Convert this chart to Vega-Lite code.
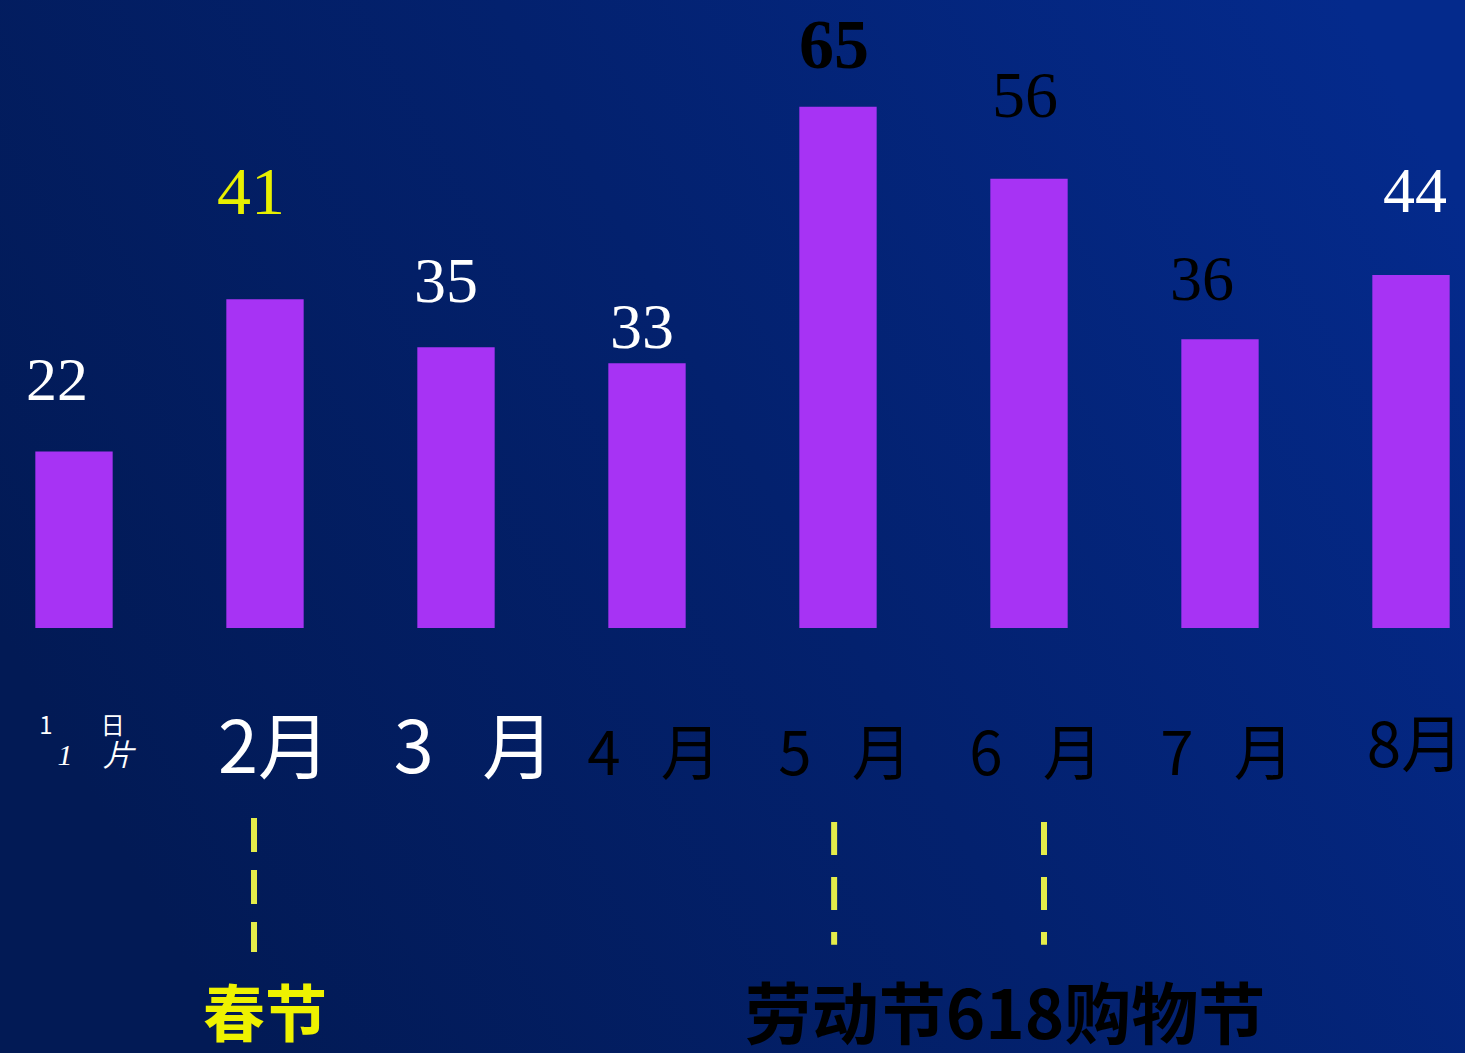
{
  "$schema": "https://vega.github.io/schema/vega-lite/v6.json",
  "width": 1465,
  "height": 1053,
  "autosize": "none",
  "padding": 0,
  "background": "#041f66",
  "config": {
    "view": {"stroke": null, "fill": {"gradient": "linear", "x1": 0, "y1": 0.6, "x2": 1, "y2": 0.2, "stops": [{"offset": 0, "color": "#021a55"}, {"offset": 0.5, "color": "#03216e"}, {"offset": 1, "color": "#042a8c"}]}}
  },
  "datasets": {
    "sales": [
      {"month": "1月", "value": 22, "label": ""},
      {"month": "2月", "value": 41, "label": "2月"},
      {"month": "3月", "value": 35, "label": "3\u00a0\u00a0\u00a0月"},
      {"month": "4月", "value": 33, "label": "4\u00a0\u00a0\u00a0月"},
      {"month": "5月", "value": 65, "label": "5\u00a0\u00a0\u00a0月"},
      {"month": "6月", "value": 56, "label": "6\u00a0\u00a0\u00a0月"},
      {"month": "7月", "value": 36, "label": "7\u00a0\u00a0\u00a0月"},
      {"month": "8月", "value": 44, "label": "8月"}
    ],
    "firstLabel": [
      {"month": "1月", "top": "1\u00a0\u00a0\u00a0\u00a0\u00a0\u00a0\u00a0\u00a0\u00a0日", "bottom": "1\u00a0\u00a0\u00a0\u00a0片"}
    ],
    "events": [
      {"month": "2月", "text": "春节"},
      {"month": "6月", "text": "劳动节618购物节"}
    ]
  },
  "data": {"name": "sales"},
  "encoding": {
    "x": {"field": "month", "type": "nominal", "axis": null,
      "scale": {"domain": ["1月", "2月", "3月", "4月", "5月", "6月", "7月", "8月"], "range": [-21.5, 1506.5], "paddingInner": 0.595, "paddingOuter": 0.2975}}
  },
  "layer": [
    {
      "mark": {"type": "bar", "color": "#a733f4"},
      "encoding": {
        "y": {"field": "value", "type": "quantitative", "axis": null, "scale": {"domain": [-53, 78.3], "nice": false, "zero": false}}
      }
    },
    {
      "transform": [{"filter": "datum.month == '1月'"}],
      "mark": {"type": "text", "font": "Liberation Serif", "fontSize": 62, "color": "#ffffff", "dx": -17, "dy": -52, "baseline": "alphabetic"},
      "encoding": {"y": {"field": "value", "type": "quantitative"}, "text": {"field": "value", "type": "quantitative"}}
    },
    {
      "transform": [{"filter": "datum.month == '2月'"}],
      "mark": {"type": "text", "font": "Liberation Serif", "fontSize": 68, "color": "#e8f000", "dx": -14, "dy": -85, "baseline": "alphabetic"},
      "encoding": {"y": {"field": "value", "type": "quantitative"}, "text": {"field": "value", "type": "quantitative"}}
    },
    {
      "transform": [{"filter": "datum.month == '3月'"}],
      "mark": {"type": "text", "font": "Liberation Serif", "fontSize": 64, "color": "#ffffff", "dx": -10, "dy": -45, "baseline": "alphabetic"},
      "encoding": {"y": {"field": "value", "type": "quantitative"}, "text": {"field": "value", "type": "quantitative"}}
    },
    {
      "transform": [{"filter": "datum.month == '4月'"}],
      "mark": {"type": "text", "font": "Liberation Serif", "fontSize": 64, "color": "#ffffff", "dx": -5, "dy": -15, "baseline": "alphabetic"},
      "encoding": {"y": {"field": "value", "type": "quantitative"}, "text": {"field": "value", "type": "quantitative"}}
    },
    {
      "transform": [{"filter": "datum.month == '5月'"}],
      "mark": {"type": "text", "font": "Liberation Serif", "fontSize": 70, "fontWeight": "bold", "color": "#000000", "dx": -4, "dy": -39, "baseline": "alphabetic"},
      "encoding": {"y": {"field": "value", "type": "quantitative"}, "text": {"field": "value", "type": "quantitative"}}
    },
    {
      "transform": [{"filter": "datum.month == '6月'"}],
      "mark": {"type": "text", "font": "Liberation Serif", "fontSize": 66, "color": "#000000", "dx": -4, "dy": -62, "baseline": "alphabetic"},
      "encoding": {"y": {"field": "value", "type": "quantitative"}, "text": {"field": "value", "type": "quantitative"}}
    },
    {
      "transform": [{"filter": "datum.month == '7月'"}],
      "mark": {"type": "text", "font": "Liberation Serif", "fontSize": 64, "color": "#000000", "dx": -18, "dy": -39, "baseline": "alphabetic"},
      "encoding": {"y": {"field": "value", "type": "quantitative"}, "text": {"field": "value", "type": "quantitative"}}
    },
    {
      "transform": [{"filter": "datum.month == '8月'"}],
      "mark": {"type": "text", "font": "Liberation Serif", "fontSize": 64, "color": "#ffffff", "dx": 4, "dy": -63, "baseline": "alphabetic"},
      "encoding": {"y": {"field": "value", "type": "quantitative"}, "text": {"field": "value", "type": "quantitative"}}
    },
    {
      "transform": [{"filter": "datum.month == '2月'"}],
      "mark": {"type": "text", "font": "Noto Sans CJK SC", "fontSize": 72, "color": "#ffffff", "dx": 9, "baseline": "alphabetic"},
      "encoding": {"y": {"datum": -18.1}, "text": {"field": "label", "type": "nominal"}}
    },
    {
      "transform": [{"filter": "datum.month == '3月'"}],
      "mark": {"type": "text", "font": "Noto Sans CJK SC", "fontSize": 72, "color": "#ffffff", "dx": 18, "baseline": "alphabetic"},
      "encoding": {"y": {"datum": -18.1}, "text": {"field": "label", "type": "nominal"}}
    },
    {
      "transform": [{"filter": "datum.month == '4月' || datum.month == '5月' || datum.month == '6月' || datum.month == '7月'"}],
      "mark": {"type": "text", "font": "Noto Sans CJK SC", "fontSize": 60, "color": "#000000", "dx": 7, "baseline": "alphabetic"},
      "encoding": {"y": {"datum": -18.3}, "text": {"field": "label", "type": "nominal"}}
    },
    {
      "transform": [{"filter": "datum.month == '8月'"}],
      "mark": {"type": "text", "font": "Noto Sans CJK SC", "fontSize": 62, "color": "#000000", "dx": 4, "baseline": "alphabetic"},
      "encoding": {"y": {"datum": -17.3}, "text": {"field": "label", "type": "nominal"}}
    },
    {
      "data": {"name": "firstLabel"},
      "mark": {"type": "text", "font": "Noto Sans CJK SC", "fontSize": 24, "color": "#ffffff", "dx": 8, "baseline": "alphabetic"},
      "encoding": {"y": {"datum": -13.2}, "text": {"field": "top", "type": "nominal"}}
    },
    {
      "data": {"name": "firstLabel"},
      "mark": {"type": "text", "font": "Liberation Serif", "fontSize": 30, "fontStyle": "italic", "color": "#ffffff", "dx": 21, "baseline": "alphabetic"},
      "encoding": {"y": {"datum": -17.1}, "text": {"field": "bottom", "type": "nominal"}}
    },
    {
      "transform": [{"filter": "datum.month == '2月'"}],
      "mark": {"type": "rule", "color": "#e4ec4a", "strokeWidth": 6, "strokeDash": [34, 18], "strokeCap": "butt"},
      "encoding": {"x": {"field": "month", "type": "nominal", "bandPosition": 0.358}, "y": {"datum": -23.7}, "y2": {"datum": -40.4}}
    },
    {
      "transform": [{"filter": "datum.month == '5月'"}],
      "mark": {"type": "rule", "color": "#e4ec4a", "strokeWidth": 6, "strokeDash": [33, 22], "strokeCap": "butt"},
      "encoding": {"x": {"field": "month", "type": "nominal", "bandPosition": 0.45}, "y": {"datum": -24.2}, "y2": {"datum": -39.5}}
    },
    {
      "transform": [{"filter": "datum.month == '6月'"}],
      "mark": {"type": "rule", "color": "#e4ec4a", "strokeWidth": 6, "strokeDash": [33, 22], "strokeCap": "butt"},
      "encoding": {"x": {"field": "month", "type": "nominal", "bandPosition": 0.694}, "y": {"datum": -24.2}, "y2": {"datum": -39.5}}
    },
    {
      "data": {"name": "events"},
      "transform": [{"filter": "datum.month == '2月'"}],
      "mark": {"type": "text", "font": "Noto Sans CJK SC", "fontSize": 62, "fontWeight": "bold", "color": "#eef200", "baseline": "alphabetic"},
      "encoding": {"y": {"datum": -51.0}, "text": {"field": "text", "type": "nominal"}}
    },
    {
      "data": {"name": "events"},
      "transform": [{"filter": "datum.month == '6月'"}],
      "mark": {"type": "text", "font": "Noto Sans CJK SC", "fontSize": 67, "fontWeight": "bold", "color": "#000000", "dx": -24, "baseline": "alphabetic"},
      "encoding": {"y": {"datum": -51.3}, "text": {"field": "text", "type": "nominal"}}
    }
  ]
}
